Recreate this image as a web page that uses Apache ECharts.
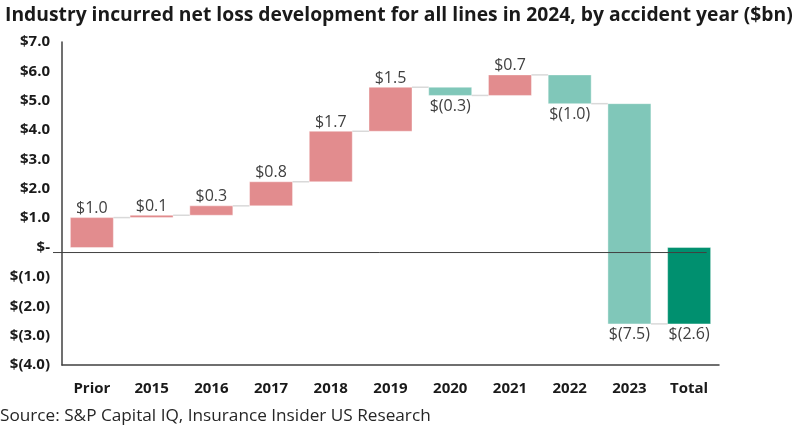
<!DOCTYPE html>
<html>
<head>
<meta charset="utf-8">
<script src="https://cdn.jsdelivr.net/npm/echarts@6/dist/echarts.min.js"></script>
<style>
html,body{margin:0;padding:0;background:#fff;}
#c{width:800px;height:429px;}
</style>
</head>
<body>
<div id="c"></div>
<script>
const categories = ['Prior','2015','2016','2017','2018','2019','2020','2021','2022','2023','Total'];
const changes = [1.02, 0.08, 0.32, 0.82, 1.72, 1.50, -0.28, 0.70, -0.98, -7.50];
const totalValue = -2.6;
const yTicks = {min: -4, max: 7, interval: 1};
const baselineValue = -0.17;

const colors = {pos: '#E28C8E', neg: '#80C7B9', total: '#00906F'};

// build waterfall items: [index, start, end, kind, change]
const items = [];
let run = 0;
changes.forEach((v, i) => {
  items.push([i, run, run + v, v >= 0 ? 'pos' : 'neg', v]);
  run += v;
});
items.push([categories.length - 1, 0, totalValue, 'total', totalValue]);

function fmtMoney(v) {
  const r = Math.round(v * 10) / 10;
  if (Math.abs(r) < 1e-9) return '$-';
  if (r < 0) return '$(' + Math.abs(r).toFixed(1) + ')';
  return '$' + r.toFixed(1);
}

const chart = echarts.init(document.getElementById('c'));
chart.setOption({
  animation: false,
  title: {
    text: 'Industry incurred net loss development for all lines in 2024, by accident year ($bn)',
    left: 0, top: 1,
    textStyle: {fontFamily: 'Open Sans', fontWeight: 'bold', fontSize: 19.3, color: '#1a1a1a'}
  },
  graphic: [{
    type: 'text', left: 0, top: 408,
    style: {text: 'Source: S&P Capital IQ, Insurance Insider US Research', font: '17.2px "Open Sans"', fill: '#262626'}
  }],
  grid: {left: 62, right: 81, top: 42, bottom: 64},
  xAxis: {
    type: 'category', data: categories,
    axisLine: {show: true, onZero: false, lineStyle: {color: '#404040', width: 1.5}},
    axisTick: {show: false},
    axisLabel: {fontFamily: 'Open Sans', fontWeight: 'bold', fontSize: 15, color: '#1a1a1a', margin: 16}
  },
  yAxis: {
    type: 'value', min: yTicks.min, max: yTicks.max, interval: yTicks.interval,
    axisLine: {show: true, lineStyle: {color: '#404040', width: 1.5}},
    axisTick: {show: false},
    splitLine: {show: false},
    axisLabel: {fontFamily: 'Open Sans', fontWeight: 'bold', fontSize: 15, color: '#1a1a1a', margin: 12, formatter: fmtMoney}
  },
  series: [{
    type: 'custom',
    data: items,
    encode: {x: 0, y: [1, 2]},
    renderItem: function (params, api) {
      const idx = api.value(0);
      const s = api.value(1), e = api.value(2);
      const item = items[params.dataIndex];
      const kind = item[3];
      const bw = api.size([1, 0])[0] * 0.72;
      const p1 = api.coord([idx, s]);
      const p2 = api.coord([idx, e]);
      const top = Math.min(p1[1], p2[1]);
      const h = Math.abs(p1[1] - p2[1]);
      const children = [{
        type: 'rect',
        shape: {x: p1[0] - bw / 2, y: top, width: bw, height: Math.max(h, 1)},
        style: {fill: colors[kind], stroke: 'rgba(255,255,255,0.5)', lineWidth: 0.8}
      }];
      const val = item[4];
      const labelY = val >= 0 ? top - 1 : top + h + 3;
      children.push({
        type: 'text',
        style: {
          text: fmtMoney(val), x: p1[0], y: labelY,
          align: 'center', verticalAlign: val >= 0 ? 'bottom' : 'top',
          font: '16px "Open Sans"', fill: '#404040'
        }
      });
      if (params.dataIndex < items.length - 1) {
        const nxt = api.coord([idx + 1, e]);
        children.push({
          type: 'line',
          shape: {x1: p1[0] + bw / 2, y1: p2[1], x2: nxt[0] - bw / 2, y2: p2[1]},
          style: {stroke: '#d9d9d9', lineWidth: 1.5}
        });
      }
      return {type: 'group', children: children};
    },
    z: 2
  }, {
    type: 'custom',
    data: [[0, baselineValue]],
    encode: {x: 0, y: 1},
    renderItem: function (params, api) {
      const bw = api.size([1, 0])[0] * 0.72;
      const a = api.coord([0, api.value(1)]);
      const b = api.coord([categories.length - 1, api.value(1)]);
      const catW = api.size([1, 0])[0];
      return {
        type: 'line',
        shape: {x1: a[0] - catW / 2 - 9, y1: a[1], x2: b[0] + bw / 2 - 4, y2: a[1]},
        style: {stroke: '#404040', lineWidth: 1}
      };
    },
    z: 5, silent: true
  }]
});
</script>
</body>
</html>
